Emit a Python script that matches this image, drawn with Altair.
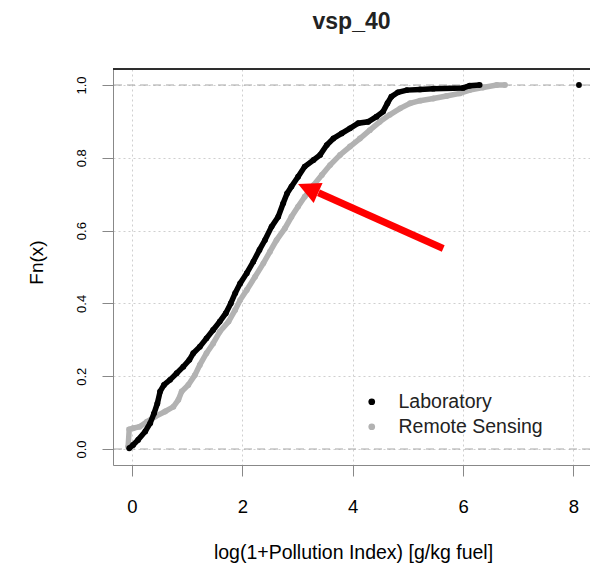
import altair as alt
import pandas as pd

# ---- data ----
lab_x = [-0.05, 0.02, 0.11, 0.24, 0.33, 0.40, 0.46, 0.51, 0.58, 0.69, 0.81, 0.93, 1.04, 1.11,
         1.23, 1.35, 1.47, 1.59, 1.70, 1.79, 1.87, 1.96, 2.08, 2.20, 2.31, 2.41, 2.53, 2.65,
         2.74, 2.81, 2.89, 3.01, 3.13, 3.29, 3.41, 3.53, 3.65, 3.80, 3.95, 4.10, 4.28, 4.43,
         4.55, 4.63, 4.70, 4.82, 4.98, 5.22, 5.46, 6.00, 6.12, 6.30]
lab_y = [0.002, 0.011, 0.025, 0.048, 0.071, 0.098, 0.125, 0.158, 0.176, 0.190, 0.208, 0.226,
         0.245, 0.263, 0.281, 0.304, 0.327, 0.350, 0.373, 0.400, 0.428, 0.455, 0.483, 0.515,
         0.547, 0.574, 0.611, 0.638, 0.675, 0.702, 0.721, 0.748, 0.776, 0.794, 0.808, 0.835,
         0.853, 0.867, 0.881, 0.895, 0.899, 0.913, 0.927, 0.950, 0.968, 0.980, 0.986, 0.988,
         0.990, 0.992, 0.998, 1.000]
lab_extra_x = [8.10]
lab_extra_y = [1.000]

rs_x = [-0.07, -0.05, 0.02, 0.14, 0.27, 0.42, 0.60, 0.75, 0.84, 0.90, 1.02, 1.14, 1.23, 1.35,
        1.47, 1.59, 1.75, 1.87, 1.96, 2.08, 2.23, 2.38, 2.50, 2.62, 2.77, 2.89, 3.01, 3.13,
        3.29, 3.44, 3.59, 3.77, 3.95, 4.13, 4.31, 4.49, 4.67, 4.86, 5.04, 5.22, 5.46, 5.70,
        5.94, 6.12, 6.36, 6.61, 6.76]
rs_y = [0.006, 0.054, 0.057, 0.061, 0.075, 0.089, 0.103, 0.116, 0.135, 0.158, 0.176, 0.203,
        0.231, 0.263, 0.290, 0.322, 0.350, 0.382, 0.409, 0.437, 0.473, 0.510, 0.542, 0.574,
        0.606, 0.638, 0.666, 0.693, 0.725, 0.753, 0.780, 0.808, 0.831, 0.853, 0.876, 0.899,
        0.918, 0.936, 0.950, 0.957, 0.963, 0.970, 0.977, 0.986, 0.993, 1.000, 1.000]

series_names = ["Laboratory", "Remote Sensing"]
series_colors = ["#000000", "#b2b2b2"]
x_ticks = [0, 2, 4, 6, 8]
y_ticks = [0.0, 0.2, 0.4, 0.6, 0.8, 1.0]
h_refs = [0.0, 1.0]
# arrow annotation (data coordinates): tail, base of head, tip
arrow_tail = [5.64, 0.551]
arrow_base = [3.38, 0.704]
arrow_tip = [3.01, 0.728]

# ---- tables ----
lab = pd.DataFrame({"x": lab_x, "Fn": lab_y, "source": series_names[0]})
lab_all = pd.concat([lab, pd.DataFrame({"x": lab_extra_x, "Fn": lab_extra_y, "source": series_names[0]})])
rs = pd.DataFrame({"x": rs_x, "Fn": rs_y, "source": series_names[1]})
refs = pd.DataFrame({"Fn": h_refs})
arrow_df = pd.DataFrame({"x": [arrow_tail[0]], "Fn": [arrow_tail[1]],
                         "x2": [arrow_base[0]], "Fn2": [arrow_base[1]]})
tip_df = pd.DataFrame({"x": [arrow_tip[0]], "Fn": [arrow_tip[1]]})

W, H = 477, 396
FONT = "Liberation Sans"
TXT = "#222222"

xenc = alt.X("x:Q",
             scale=alt.Scale(domain=[-0.344, 8.3], nice=False, zero=False),
             axis=alt.Axis(values=x_ticks, format="d", title="log(1+Pollution Index) [g/kg fuel]",
                           grid=True, gridColor="#cfcfcf", gridDash=[2, 3], gridWidth=1,
                           labelFontSize=18.5, labelBaseline="alphabetic", labelPadding=36,
                           tickSize=11, titleFontSize=19.5, titleFontWeight="normal",
                           titleX=240, titleY=93,
                           titleBaseline="alphabetic", titleAlign="center"))
yenc = alt.Y("Fn:Q",
             scale=alt.Scale(domain=[-0.044, 1.044], nice=False, zero=False),
             axis=alt.Axis(values=y_ticks, format=".1f", title="Fn(x)",
                           grid=True, gridColor="#cfcfcf", gridDash=[2, 3], gridWidth=1,
                           labelFontSize=13, labelAngle=270, labelAlign="center",
                           labelBaseline="alphabetic", labelPadding=17, tickSize=11,
                           titleFontSize=19, titleFontWeight="normal",
                           titleAngle=270, titleX=-71, titleY=193,
                           titleBaseline="alphabetic", titleAlign="center"))

color_scale = alt.Scale(domain=series_names, range=series_colors)

ref_lines = alt.Chart(refs).mark_rule(color="#a8a8a8", strokeDash=[8, 5], strokeWidth=1.2).encode(
    y=yenc)

legend = alt.Legend(title=None, orient="none", legendX=249, legendY=323,
                    symbolType="circle", symbolSize=45, symbolStrokeWidth=0,
                    labelFontSize=19.5, labelFont=FONT, labelColor=TXT, labelOffset=17,
                    rowPadding=4, padding=0)

def curve(df_line, df_pts, col):
    line = alt.Chart(df_line).mark_line(strokeWidth=5.5, color=col).encode(x=xenc, y=yenc)
    pts = alt.Chart(df_pts).mark_circle(size=34, opacity=1).encode(
        x=xenc, y=yenc, color=alt.Color("source:N", scale=color_scale, legend=legend))
    return line + pts

rs_layer = curve(rs, rs, series_colors[1])
lab_layer = curve(lab, lab_all, series_colors[0])

arrow_shaft = alt.Chart(arrow_df).mark_rule(color="#ff0000", strokeWidth=7, strokeCap="butt").encode(
    x=xenc, y=yenc, x2="x2:Q", y2="Fn2:Q")
arrow_head = alt.Chart(tip_df).mark_point(
    shape="M0,0L1,2L-1,2Z", filled=True, color="#ff0000", opacity=1,
    size=480, angle=293.9, strokeWidth=0).encode(x=xenc, y=yenc)

top_frame = alt.Chart(refs).mark_rule(color=TXT, strokeWidth=1.5).encode(
    x=alt.value(0), x2=alt.value(W), y=alt.value(0))

chart = alt.layer(
    ref_lines, rs_layer, lab_layer, arrow_shaft, arrow_head, top_frame
).properties(
    width=W, height=H,
    title=alt.TitleParams("vsp_40", fontSize=23, fontWeight="bold", font=FONT, color=TXT,
                          anchor="middle", baseline="alphabetic", offset=16),
    autosize=alt.AutoSizeParams(type="none"),
    padding={"left": 113, "top": 69, "right": 0, "bottom": 100},
).configure_view(
    stroke=None
).configure_axis(
    labelFont=FONT, titleFont=FONT, labelColor=TXT, titleColor=TXT,
    titleFontWeight="normal", domainColor=TXT, domainWidth=1.5,
    tickColor=TXT, tickWidth=1.5
).configure(background="white")

chart.save("out.html", embed_options={"renderer": "svg", "actions": False})
